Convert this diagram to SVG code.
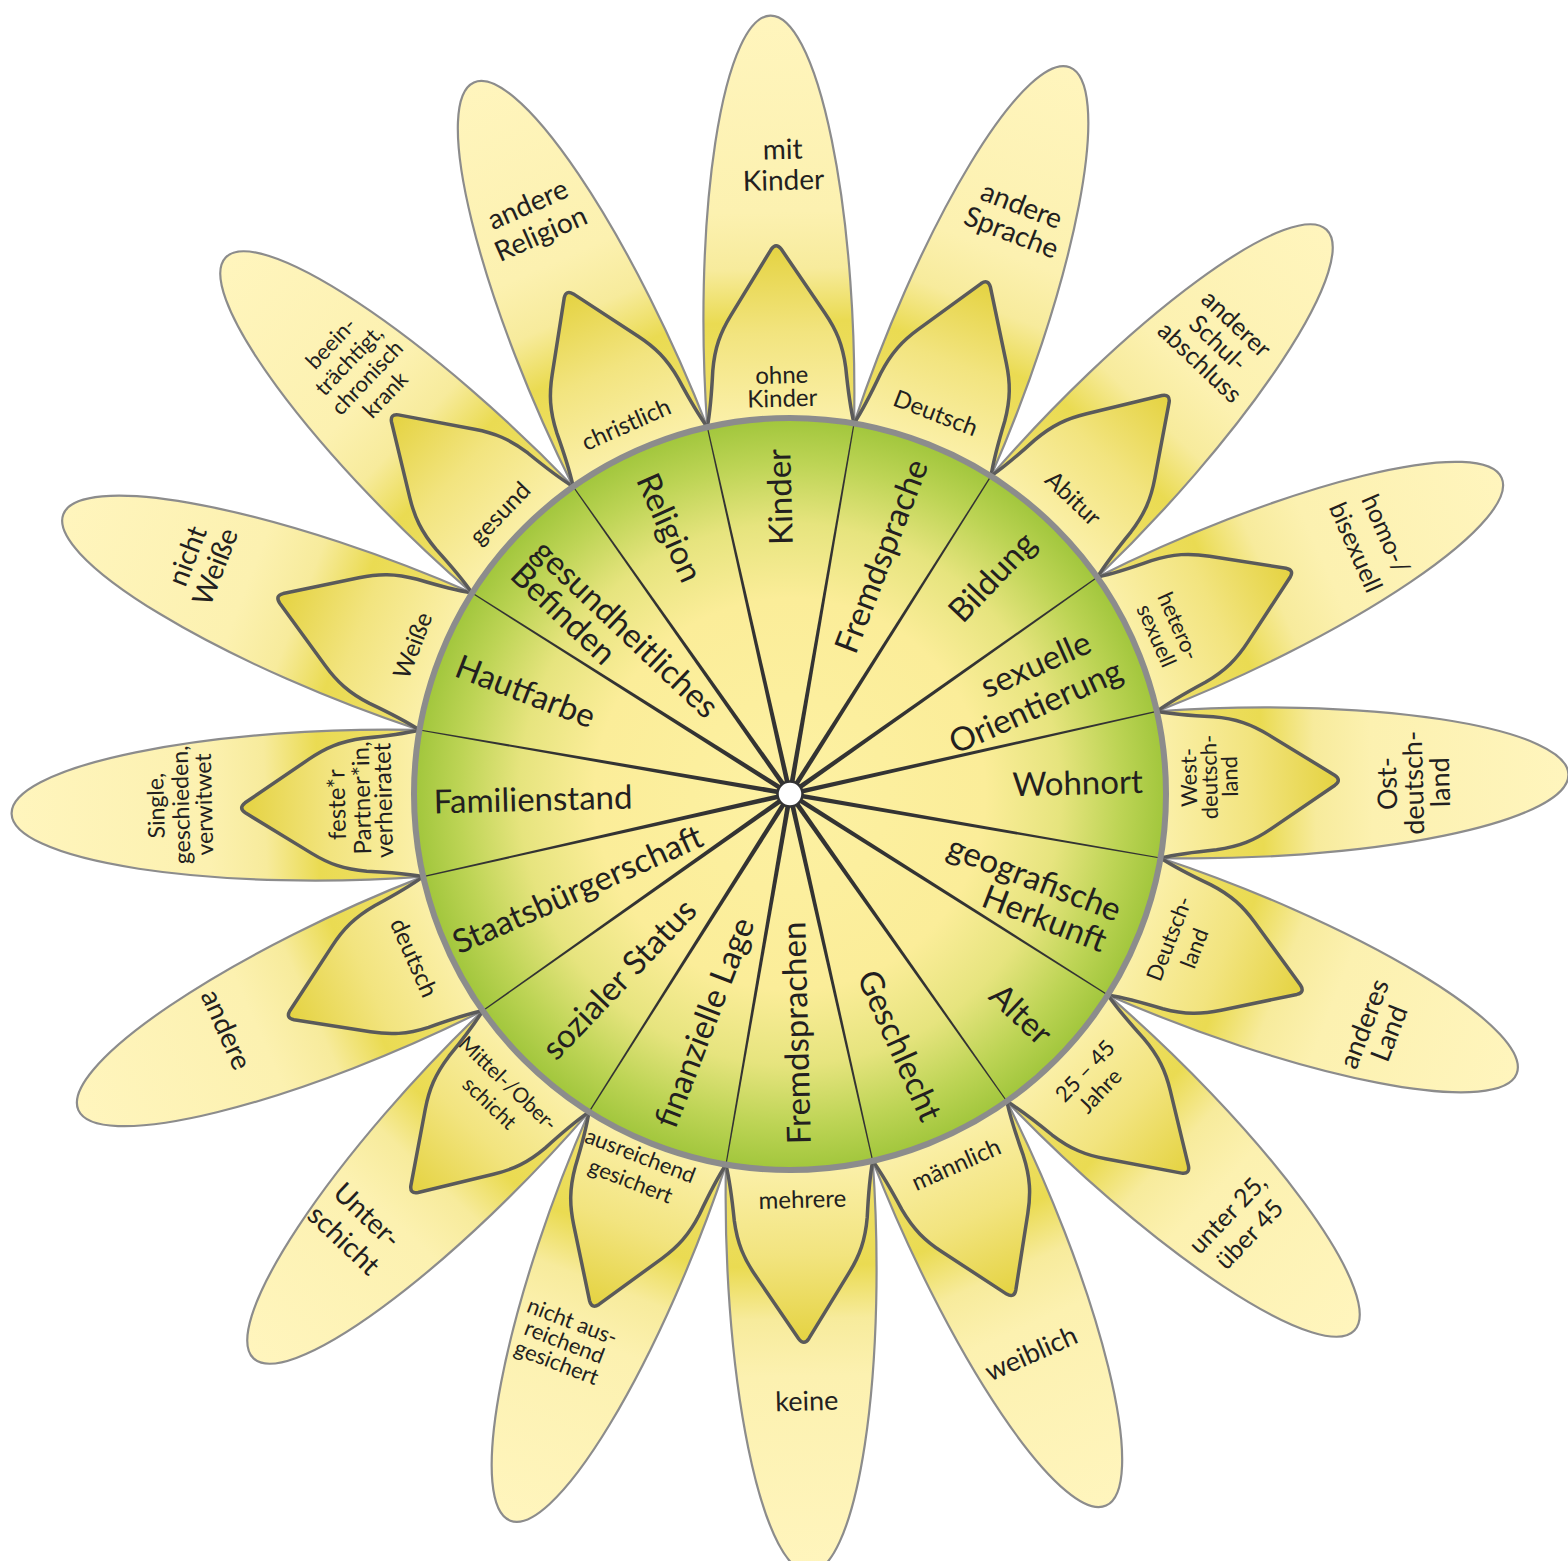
<svg xmlns="http://www.w3.org/2000/svg" xmlns:xlink="http://www.w3.org/1999/xlink" width="1568" height="1561" viewBox="0 0 1568 1561">
<defs>
  <linearGradient id="gPetal" gradientUnits="userSpaceOnUse" x1="370" y1="0" x2="778" y2="0">
    <stop offset="0" stop-color="#efe06c"/>
    <stop offset="0.25" stop-color="#eadb52"/>
    <stop offset="0.38" stop-color="#f7eb9c"/>
    <stop offset="0.52" stop-color="#fcf1b0"/>
    <stop offset="1" stop-color="#fff5bd"/>
  </linearGradient>
  <linearGradient id="gInner" gradientUnits="userSpaceOnUse" x1="370" y1="0" x2="552" y2="0">
    <stop offset="0" stop-color="#fbf0aa"/>
    <stop offset="0.5" stop-color="#f2e47f"/>
    <stop offset="1" stop-color="#e4d23f"/>
  </linearGradient>
  <radialGradient id="gHub" gradientUnits="userSpaceOnUse" cx="790" cy="794" r="376">
    <stop offset="0" stop-color="#fdf1a3"/>
    <stop offset="0.52" stop-color="#fbed99"/>
    <stop offset="0.72" stop-color="#e6e47e"/>
    <stop offset="0.88" stop-color="#bdd455"/>
    <stop offset="1" stop-color="#a1c63c"/>
  </radialGradient>
  <path id="petal" d="M368.8,-73.4 A340 75 0 1 1 368.8,73.4 A376 376 0 0 0 368.8,-73.4 Z"/>
  <path id="inner" d="M368.8,-73.4 C385,-70 405,-68 425,-66.5 C448,-64 463,-58 480,-47 L545,-5 Q552,0 545,5 L480,47 C463,58 448,64 425,66.5 C405,68 385,70 368.8,73.4 A376 376 0 0 0 368.8,-73.4 Z"/>
  <polygon id="spoke" points="0,-2.4 376,-0.6 376,0.6 0,2.4"/>
</defs>
<style>
  .petal{fill:url(#gPetal);stroke:#8c8c8c;stroke-width:2.2}
  .inner{fill:url(#gInner);stroke:#5a5a5a;stroke-width:3.5;stroke-linejoin:round}
  text{font-family:Lato,"Open Sans","Liberation Sans",sans-serif;fill:#231f20;text-anchor:middle;dominant-baseline:central}
  .cat{font-size:33px}
  .in{font-size:24px}
  .ins{font-size:22px}
  .out{font-size:27px}
  .outs{font-size:22px}
  .spoke{fill:#333333}
</style>

<g id="hub-fill"><circle cx="790" cy="794" r="376" fill="url(#gHub)"/></g>

<g id="node-kinder">
  <g transform="translate(790 794) rotate(-91.45)"><use href="#petal" class="petal"/><use href="#inner" class="inner"/></g>
  <text class="in" transform="translate(782 385) rotate(-1.45)"><tspan x="0" y="-11.7">ohne</tspan><tspan x="0" y="11.7">Kinder</tspan></text>
  <text class="out" style="font-size:28px" transform="translate(783 163.5) rotate(-1.45)"><tspan x="0" y="-15.5">mit</tspan><tspan x="0" y="15.5">Kinder</tspan></text>
  <text class="cat" transform="translate(778.5 497) rotate(-91.45)">Kinder</text>
</g>

<g id="node-fremdsprache">
  <g transform="translate(790 794) rotate(-68.95)"><use href="#petal" class="petal"/><use href="#inner" class="inner"/></g>
  <text class="in" transform="translate(936 412) rotate(21.05)">Deutsch</text>
  <text class="out" style="font-size:28px" transform="translate(1017 217.5) rotate(21.05)"><tspan x="0" y="-14.5">andere</tspan><tspan x="0" y="14.5">Sprache</tspan></text>
  <text class="cat" transform="translate(880 555.5) rotate(-68.95)">Fremdsprache</text>
</g>

<g id="node-bildung">
  <g transform="translate(790 794) rotate(-46.45)"><use href="#petal" class="petal"/><use href="#inner" class="inner"/></g>
  <text class="in" transform="translate(1074 497.5) rotate(43.55)">Abitur</text>
  <text class="out" style="font-size:25px" transform="translate(1219 342) rotate(43.55)"><tspan x="0" y="-26.5">anderer</tspan><tspan x="0" y="0">Schul-</tspan><tspan x="0" y="26.5">abschluss</tspan></text>
  <text class="cat" transform="translate(991 576) rotate(-46.45)">Bildung</text>
</g>

<g id="node-sexuelle-orientierung">
  <g transform="translate(790 794) rotate(-23.95)"><use href="#petal" class="petal"/><use href="#inner" class="inner"/></g>
  <text class="ins" transform="translate(1168.7 630.3) rotate(66.05)"><tspan x="0" y="-12">hetero-</tspan><tspan x="0" y="12">sexuell</tspan></text>
  <text class="out" style="font-size:25px" transform="translate(1372 540) rotate(66.05)"><tspan x="0" y="-16.5">homo-/</tspan><tspan x="0" y="16.5">bisexuell</tspan></text>
  <text class="cat" transform="translate(1035 684) rotate(-23.95)"><tspan x="8.5" y="-19.2">sexuelle</tspan><tspan x="-8.5" y="19.2">Orientierung</tspan></text>
</g>

<g id="node-wohnort">
  <g transform="translate(790 794) rotate(-1.45)"><use href="#petal" class="petal"/><use href="#inner" class="inner"/></g>
  <text class="ins" transform="translate(1208 777) rotate(-91.45)"><tspan x="0" y="-20.5">West-</tspan><tspan x="0" y="0">deutsch-</tspan><tspan x="0" y="20.5">land</tspan></text>
  <text class="out" transform="translate(1412 783) rotate(-91.45)"><tspan x="0" y="-26.5">Ost-</tspan><tspan x="0" y="0">deutsch-</tspan><tspan x="0" y="26.5">land</tspan></text>
  <text class="cat" transform="translate(1077.5 781.7) rotate(-1.45)">Wohnort</text>
</g>

<g id="node-geografische-herkunft">
  <g transform="translate(790 794) rotate(21.05)"><use href="#petal" class="petal"/><use href="#inner" class="inner"/></g>
  <text class="ins" transform="translate(1180.5 943) rotate(-68.95)"><tspan x="0" y="-13.5">Deutsch-</tspan><tspan x="0" y="13.5">land</tspan></text>
  <text class="out" transform="translate(1375 1028) rotate(-68.95)"><tspan x="0" y="-13.5">anderes</tspan><tspan x="0" y="13.5">Land</tspan></text>
  <text class="cat" transform="translate(1040 897) rotate(21.05)"><tspan x="-11.9" y="-16.9">geografische</tspan><tspan x="11.9" y="16.9">Herkunft</tspan></text>
</g>

<g id="node-alter">
  <g transform="translate(790 794) rotate(43.55)"><use href="#petal" class="petal"/><use href="#inner" class="inner"/></g>
  <text class="ins" transform="translate(1091.5 1080) rotate(-46.45)"><tspan x="2" y="-12.3">25 – 45</tspan><tspan x="-2" y="12.3">Jahre</tspan></text>
  <text class="out" style="font-size:25px" transform="translate(1237.5 1223) rotate(-46.45)"><tspan x="0" y="-15">unter 25,</tspan><tspan x="0" y="15">über 45</tspan></text>
  <text class="cat" transform="translate(1022 1013) rotate(43.55)">Alter</text>
</g>

<g id="node-geschlecht">
  <g transform="translate(790 794) rotate(66.05)"><use href="#petal" class="petal"/><use href="#inner" class="inner"/></g>
  <text class="in" transform="translate(955.7 1163.3) rotate(-23.95)">männlich</text>
  <text class="out" transform="translate(1030.7 1352.3) rotate(-23.95)">weiblich</text>
  <text class="cat" transform="translate(901 1045) rotate(66.05)">Geschlecht</text>
</g>

<g id="node-fremdsprachen">
  <g transform="translate(790 794) rotate(88.55)"><use href="#petal" class="petal"/><use href="#inner" class="inner"/></g>
  <text class="in" transform="translate(802.3 1198.3) rotate(-1.45)">mehrere</text>
  <text class="out" transform="translate(806.7 1400) rotate(-1.45)">keine</text>
  <text class="cat" transform="translate(795 1033) rotate(-91.45)">Fremdsprachen</text>
</g>

<g id="node-finanzielle-lage">
  <g transform="translate(790 794) rotate(111.05)"><use href="#petal" class="petal"/><use href="#inner" class="inner"/></g>
  <text class="ins" transform="translate(636 1167) rotate(21.05)"><tspan x="0" y="-13.5">ausreichend</tspan><tspan x="0" y="13.5">gesichert</tspan></text>
  <text class="outs" transform="translate(565 1340.7) rotate(21.05)"><tspan x="0" y="-22">nicht aus-</tspan><tspan x="0" y="0">reichend</tspan><tspan x="0" y="22">gesichert</tspan></text>
  <text class="cat" transform="translate(703 1022) rotate(-68.95)">finanzielle Lage</text>
</g>

<g id="node-sozialer-status">
  <g transform="translate(790 794) rotate(133.55)"><use href="#petal" class="petal"/><use href="#inner" class="inner"/></g>
  <text class="ins" style="font-size:21px" transform="translate(500 1092) rotate(43.55)"><tspan x="0" y="-13.5">Mittel-/Ober-</tspan><tspan x="0" y="13.5">schicht</tspan></text>
  <text class="out" style="font-size:28px" transform="translate(356.5 1226.7) rotate(43.55)"><tspan x="0" y="-17">Unter-</tspan><tspan x="0" y="17">schicht</tspan></text>
  <text class="cat" transform="translate(618 978) rotate(-46.45)">sozialer Status</text>
</g>

<g id="node-staatsbuergerschaft">
  <g transform="translate(790 794) rotate(156.05)"><use href="#petal" class="petal"/><use href="#inner" class="inner"/></g>
  <text class="in" transform="translate(415 957.3) rotate(66.05)">deutsch</text>
  <text class="out" style="font-size:28px" transform="translate(227.5 1029) rotate(66.05)">andere</text>
  <text class="cat" transform="translate(577 888) rotate(-23.95)">Staatsbürgerschaft</text>
</g>

<g id="node-familienstand">
  <g transform="translate(790 794) rotate(178.55)"><use href="#petal" class="petal"/><use href="#inner" class="inner"/></g>
  <text class="in" transform="translate(360 800) rotate(-91.45)"><tspan x="-4" y="-25">feste*r</tspan><tspan x="2" y="0">Partner*in,</tspan><tspan x="-1" y="21.7">verheiratet</tspan></text>
  <text class="outs" style="font-size:23px" transform="translate(180 805) rotate(-91.45)"><tspan x="0" y="-25">Single,</tspan><tspan x="0" y="0">geschieden,</tspan><tspan x="0" y="23">verwitwet</tspan></text>
  <text class="cat" transform="translate(533 798) rotate(-1.45)">Familienstand</text>
</g>

<g id="node-hautfarbe">
  <g transform="translate(790 794) rotate(201.05)"><use href="#petal" class="petal"/><use href="#inner" class="inner"/></g>
  <text class="in" transform="translate(411.7 645) rotate(-68.95)">Weiße</text>
  <text class="out" style="font-size:28px" transform="translate(200 560.8) rotate(-68.95)"><tspan x="0" y="-15">nicht</tspan><tspan x="0" y="15">Weiße</tspan></text>
  <text class="cat" transform="translate(526 690) rotate(21.05)">Hautfarbe</text>
</g>

<g id="node-gesundheitliches-befinden">
  <g transform="translate(790 794) rotate(223.55)"><use href="#petal" class="petal"/><use href="#inner" class="inner"/></g>
  <text class="in" transform="translate(499 512.3) rotate(-46.45)">gesund</text>
  <text class="outs" transform="translate(357 368) rotate(-46.45)"><tspan x="0" y="-37.5">beein-</tspan><tspan x="0" y="-12.5">trächtigt,</tspan><tspan x="0" y="12.5">chronisch</tspan><tspan x="0" y="37.5">krank</tspan></text>
  <text class="cat" style="text-anchor:start" transform="translate(593 617.5) rotate(43.55)"><tspan x="-89" y="-16">gesundheitliches</tspan><tspan x="-89" y="16">Befinden</tspan></text>
</g>

<g id="node-religion">
  <g transform="translate(790 794) rotate(246.05)"><use href="#petal" class="petal"/><use href="#inner" class="inner"/></g>
  <text class="in" transform="translate(625.7 423.3) rotate(-23.95)">christlich</text>
  <text class="out" style="font-size:28px" transform="translate(533.7 217.8) rotate(-23.95)"><tspan x="0" y="-16">andere</tspan><tspan x="0" y="16">Religion</tspan></text>
  <text class="cat" transform="translate(671 527) rotate(66.05)">Religion</text>
</g>

<g id="connectors">
  <use href="#spoke" class="spoke" transform="translate(790 794) rotate(-102.7)"/>
  <use href="#spoke" class="spoke" transform="translate(790 794) rotate(-80.2)"/>
  <use href="#spoke" class="spoke" transform="translate(790 794) rotate(-57.7)"/>
  <use href="#spoke" class="spoke" transform="translate(790 794) rotate(-35.2)"/>
  <use href="#spoke" class="spoke" transform="translate(790 794) rotate(-12.7)"/>
  <use href="#spoke" class="spoke" transform="translate(790 794) rotate(9.8)"/>
  <use href="#spoke" class="spoke" transform="translate(790 794) rotate(32.3)"/>
  <use href="#spoke" class="spoke" transform="translate(790 794) rotate(54.8)"/>
  <use href="#spoke" class="spoke" transform="translate(790 794) rotate(77.3)"/>
  <use href="#spoke" class="spoke" transform="translate(790 794) rotate(99.8)"/>
  <use href="#spoke" class="spoke" transform="translate(790 794) rotate(122.3)"/>
  <use href="#spoke" class="spoke" transform="translate(790 794) rotate(144.8)"/>
  <use href="#spoke" class="spoke" transform="translate(790 794) rotate(167.3)"/>
  <use href="#spoke" class="spoke" transform="translate(790 794) rotate(189.8)"/>
  <use href="#spoke" class="spoke" transform="translate(790 794) rotate(212.3)"/>
  <use href="#spoke" class="spoke" transform="translate(790 794) rotate(234.8)"/>
</g>

<g id="hub-outline">
  <circle cx="790" cy="794" r="376" fill="none" stroke="#8c8c8c" stroke-width="6"/>
  <circle cx="790" cy="794" r="12.5" fill="#ffffff" stroke="#333333" stroke-width="2.5"/>
</g>
</svg>
